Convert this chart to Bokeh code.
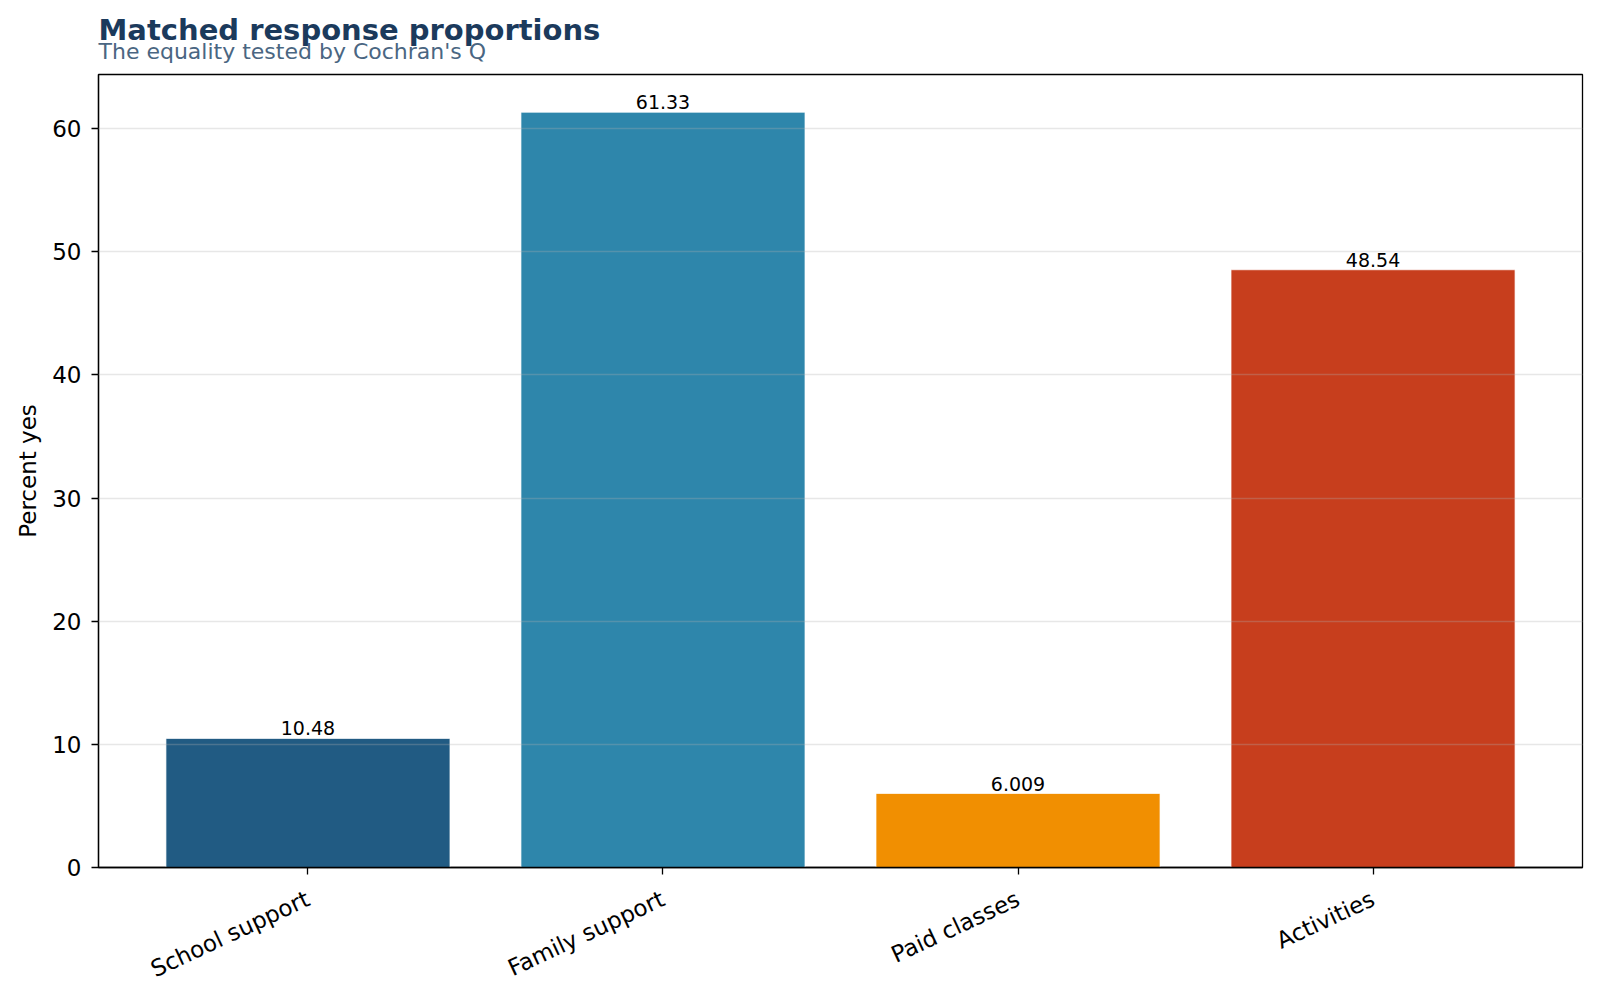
import math
from bokeh.plotting import figure
from bokeh.models import ColumnDataSource, FactorRange, Range1d, Title, FixedTicker
from bokeh.core.properties import value
from bokeh.embed import file_html
from bokeh.resources import INLINE

categories = ["School support", "Family support", "Paid classes", "Activities"]
percent_yes = [10.48, 61.33, 6.009, 48.54]
value_labels = ["10.48", "61.33", "6.009", "48.54"]
bar_colors = ["#215B83", "#2E86AB", "#F18F01", "#C73E1D"]
y_ticks = [0, 10, 20, 30, 40, 50, 60]

FONT = "DejaVu Sans"

src = ColumnDataSource(dict(cat=categories, val=percent_yes, lab=value_labels, color=bar_colors))

p = figure(width=1600, height=1000,
           x_range=FactorRange(*categories, range_padding=0.045),
           y_range=Range1d(0, max(percent_yes) * 1.05),
           output_backend="svg", toolbar_location=None, title=None,
           min_border_left=98, min_border_right=18, min_border_top=74, min_border_bottom=133)

p.vbar(x="cat", top="val", width=0.8, source=src, fill_color="color",
       line_color="white", line_width=0.7)

p.text(x="cat", y="val", text="lab", source=src, text_align="center",
       text_baseline="alphabetic", y_offset=-10, text_font_size="19px",
       text_font=value(FONT), text_color="black")

sub = Title(text="The equality tested by Cochran's Q", align="left",
            text_font=FONT, text_font_size="22px", text_font_style="normal",
            text_color="#4a6682", standoff=22)
p.add_layout(sub, "above")
main = Title(text="Matched response proportions", align="left",
             text_font=FONT, text_font_size="29px", text_font_style="bold",
             text_color="#1B3A5C", standoff=-42)
p.add_layout(main, "above")

p.yaxis.ticker = FixedTicker(ticks=y_ticks)
p.yaxis.axis_label = "Percent yes"
p.yaxis.axis_label_standoff = 8
for ax in (p.xaxis, p.yaxis):
    ax.axis_label_text_font = FONT
    ax.axis_label_text_font_size = "23px"
    ax.axis_label_text_font_style = "normal"
    ax.axis_label_text_color = "black"
    ax.major_label_text_font = FONT
    ax.major_label_text_font_size = "23px"
    ax.major_label_text_color = "black"
    ax.major_tick_out = 7
    ax.major_tick_in = 0
    ax.minor_tick_line_color = None
    ax.axis_line_width = 1.3
    ax.major_tick_line_width = 1.3
    ax.axis_line_color = "black"
    ax.major_tick_line_color = "black"
p.yaxis.major_label_standoff = 10
p.xaxis.major_label_standoff = 23
p.xaxis.major_label_orientation = math.radians(25)

p.outline_line_color = "black"
p.outline_line_width = 1.3
p.outline_line_alpha = 1.0
p.xgrid.grid_line_color = None
p.ygrid.grid_line_color = "#b0b0b0"
p.ygrid.grid_line_alpha = 0.3
p.ygrid.grid_line_width = 1.7
p.ygrid.level = "overlay"
p.ygrid.ticker = FixedTicker(ticks=y_ticks)

open("out.html", "w").write(file_html(p, INLINE))
